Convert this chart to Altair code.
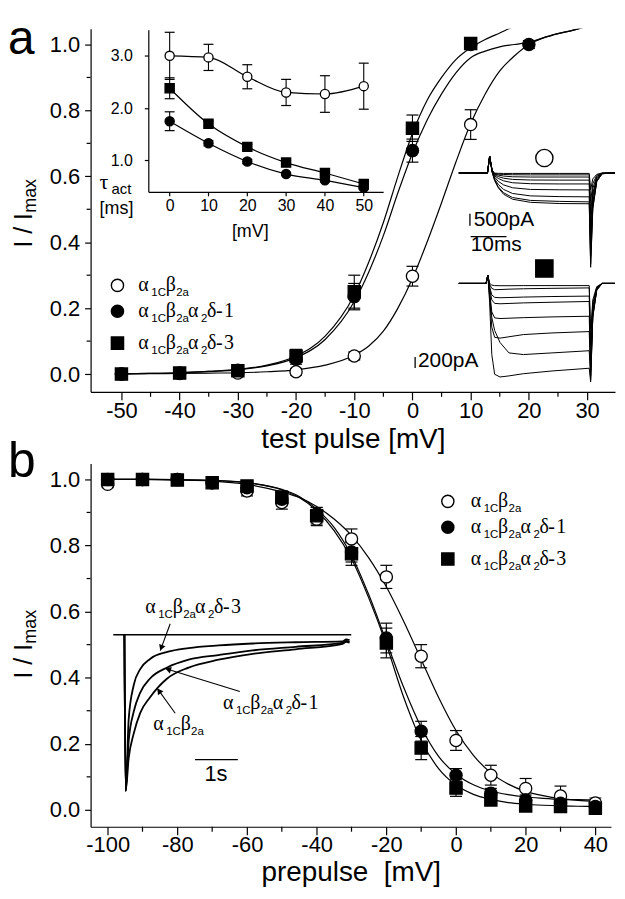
import math
import altair as alt
import pandas as pd

SANS = "Liberation Sans"
SERIF = "Liberation Serif"
K = "black"

# ================= Panel a : activation =================
act_v = [-50, -40, -30, -20, -10, 0, 10, 20]
act_b2a = [0.000, 0.002, 0.003, 0.007, 0.055, 0.297, 0.757]
act_b2a_err = [0.005, 0.005, 0.008, 0.010, 0.012, 0.030, 0.045]
act_d1 = [0.000, 0.003, 0.012, 0.045, 0.235, 0.678, 1.000, 1.000]
act_d1_err = [0.005, 0.005, 0.010, 0.015, 0.040, 0.035, 0.010, 0.012]
act_d3 = [0.000, 0.003, 0.010, 0.055, 0.250, 0.746, 1.003]
act_d3_err = [0.005, 0.005, 0.010, 0.020, 0.050, 0.040, 0.012]

fit_a_v = [-50, -45, -40, -35, -30, -25, -20, -15, -10, -7.5, -5, -2.5, 0, 2.5, 5,
           7.5, 10, 12.5, 15, 17.5, 20, 22.5, 25, 27.5, 30]
fit_a_b2a = [0.000, 0.001, 0.002, 0.003, 0.004, 0.007, 0.013, 0.027, 0.057, 0.085, 0.130,
             0.200, 0.290, 0.400, 0.520, 0.645, 0.760, 0.850, 0.920, 0.965, 1.000, 1.020,
             1.033, 1.043, 1.055]
fit_a_d1 = [0.001, 0.002, 0.004, 0.008, 0.013, 0.025, 0.050, 0.105, 0.220, 0.310, 0.420,
            0.550, 0.670, 0.770, 0.850, 0.915, 0.960, 0.980, 0.993, 1.000, 1.007, 1.020,
            1.033, 1.043, 1.055]
fit_a_d3 = [0.001, 0.002, 0.004, 0.008, 0.014, 0.027, 0.055, 0.115, 0.240, 0.340, 0.460,
            0.600, 0.730, 0.830, 0.900, 0.955, 0.990, 1.015, 1.035, 1.055, 1.070]

# inset: activation time constant
tau_v = [0, 10, 20, 30, 40, 50]
tau_b2a = [3.00, 2.97, 2.60, 2.30, 2.27, 2.42]
tau_b2a_err = [0.45, 0.25, 0.23, 0.25, 0.35, 0.44]
tau_d1 = [1.75, 1.33, 0.98, 0.74, 0.62, 0.48]
tau_d1_err = [0.18, 0.05, 0.04, 0.03, 0.03, 0.03]
tau_d3 = [2.38, 1.70, 1.26, 0.96, 0.76, 0.55]
tau_d3_err = [0.20, 0.05, 0.05, 0.04, 0.04, 0.04]

# current traces (ms, pA)
top_t = [0, 8.0, 8.6, 9.3, 10, 11, 12.5, 15, 20, 28, 36.4, 36.8, 37.4, 38.5, 40, 43.6]
top_traces = [
    [0, 0, 700, 100, -10, -15, -20, -20, -20, -20, -20, -700, -250, -60, 0, 0],
    [0, 0, 700, 100, -30, -50, -65, -75, -80, -80, -80, -1200, -450, -100, -10, 0],
    [0, 0, 700, 100, -50, -90, -130, -160, -170, -170, -170, -1700, -650, -150, -10, 0],
    [0, 0, 700, 100, -80, -150, -220, -270, -295, -300, -300, -2200, -850, -200, -20, 0],
    [0, 0, 700, 80, -120, -230, -330, -410, -450, -460, -460, -2700, -1000, -250, -20, 0],
    [0, 0, 700, 60, -180, -350, -500, -620, -690, -705, -710, -3100, -1200, -300, -30, 0],
    [0, 0, 700, 50, -250, -480, -690, -860, -960, -990, -1000, -3500, -1350, -330, -30, 0],
    [0, 0, 700, 40, -300, -580, -830, -1030, -1150, -1190, -1210, -3800, -1450, -350, -30, 0],
    [0, 0, 700, 30, -320, -620, -890, -1100, -1230, -1280, -1290, -3950, -1500, -360, -30, 0],
]
bot_t = [0, 7.6, 8.1, 8.6, 9.2, 10, 11.5, 14, 18, 26, 36.4, 36.8, 37.4, 38.5, 40, 43.6]
bot_traces = [
    [0, 0, 150, 0, -30, -40, -42, -42, -40, -40, -40, -900, -300, -60, 0, 0],
    [0, 0, 150, -20, -90, -115, -112, -105, -98, -90, -82, -1100, -360, -70, 0, 0],
    [0, 0, 150, -60, -210, -255, -262, -258, -250, -240, -232, -1300, -430, -85, 0, 0],
    [0, 0, 150, -90, -300, -365, -372, -366, -356, -344, -330, -1450, -480, -95, 0, 0],
    [0, 0, 150, -150, -520, -630, -642, -636, -626, -612, -600, -1600, -540, -105, 0, 0],
    [0, 0, 150, -250, -800, -985, -1000, -975, -935, -905, -880, -1700, -580, -115, 0, 0],
    [0, 0, 150, -200, -620, -860, -1080, -1270, -1300, -1270, -1230, -1760, -600, -120, 0, 0],
    [0, 0, 150, -350, -1300, -1660, -1710, -1690, -1650, -1600, -1550, -1800, -620, -125, 0, 0],
]

# ================= Panel b : inactivation =================
inact_v = [-100, -90, -80, -70, -60, -50, -40, -30, -20, -10, 0, 10, 20, 30, 40]
inact_b2a = [0.985, 1.000, 1.000, 0.990, 0.965, 0.930, 0.880, 0.820, 0.705, 0.465, 0.210,
             0.105, 0.065, 0.042, 0.021]
inact_b2a_err = [0.010, 0.005, 0.010, 0.010, 0.015, 0.020, 0.020, 0.030, 0.035, 0.035, 0.030,
                 0.030, 0.030, 0.030, 0.015]
inact_d1 = [1.000, 1.000, 1.000, 0.990, 0.975, 0.940, 0.895, 0.780, 0.520, 0.238, 0.105,
            0.050, 0.030, 0.020, 0.010]
inact_d1_err = [0.005, 0.005, 0.005, 0.010, 0.010, 0.020, 0.020, 0.030, 0.045, 0.030, 0.020,
                0.015, 0.015, 0.010, 0.010]
inact_d3 = [1.000, 1.000, 0.998, 0.990, 0.980, 0.945, 0.890, 0.775, 0.505, 0.187, 0.066,
            0.030, 0.012, 0.010, 0.005]
inact_d3_err = [0.005, 0.005, 0.005, 0.010, 0.010, 0.020, 0.025, 0.035, 0.045, 0.035, 0.025,
                0.015, 0.015, 0.010, 0.010]

fit_b_v = [-100, -90, -80, -70, -60, -50, -45, -40, -35, -30, -25, -20, -15, -10, -5, 0, 5,
           10, 15, 20, 25, 30, 35, 40]
fit_b_b2a = [1.000, 1.000, 0.998, 0.995, 0.985, 0.962, 0.945, 0.918, 0.880, 0.830, 0.762,
             0.675, 0.570, 0.455, 0.340, 0.240, 0.165, 0.112, 0.078, 0.056, 0.043, 0.034,
             0.029, 0.026]
fit_b_d1 = [1.000, 1.000, 0.999, 0.997, 0.990, 0.970, 0.948, 0.910, 0.855, 0.770, 0.650,
            0.510, 0.370, 0.250, 0.162, 0.108, 0.076, 0.057, 0.046, 0.039, 0.035, 0.032,
            0.031, 0.030]
fit_b_d3 = [1.000, 1.000, 0.999, 0.997, 0.990, 0.968, 0.945, 0.905, 0.845, 0.760, 0.640,
            0.500, 0.340, 0.210, 0.125, 0.075, 0.047, 0.032, 0.022, 0.017, 0.014, 0.012,
            0.011, 0.010]

# normalised tail-current traces (s, fraction of peak)
tb_t = [0, 0.03, 0.1, 0.22, 0.37, 0.6, 1.0, 1.5, 2.2, 3.0, 4.0, 5.1, 5.18, 5.26]
tb_d3 = [0, -1.0, -0.54, -0.32, -0.22, -0.155, -0.11, -0.085, -0.068, -0.056, -0.048,
         -0.042, -0.03, -0.035]
tb_d1 = [0, -1.0, -0.68, -0.49, -0.37, -0.28, -0.21, -0.16, -0.13, -0.10, -0.077,
         -0.052, -0.04, -0.045]
tb_b2a = [0, -1.0, -0.79, -0.63, -0.50, -0.40, -0.28, -0.21, -0.16, -0.122, -0.093,
          -0.058, -0.045, -0.05]
tb_zero_t = [-0.26, 5.3]

WA, HA = 527, 365
WB, HB = 523, 365


def sdf(v, y, e):
    n = len(y)
    return pd.DataFrame({"v": v[:n], "y": y,
                         "lo": [a - b for a, b in zip(y, e)],
                         "hi": [a + b for a, b in zip(y, e)]})


def fitdf(v, series):
    rows = []
    for k, ys in series.items():
        for a, b in zip(v, ys):
            rows.append({"v": a, "y": b, "k": k})
    return pd.DataFrame(rows)


def tracedf(t, traces):
    rows = []
    for k, tr in enumerate(traces):
        for a, b in zip(t, tr):
            rows.append({"t": a, "i": b, "k": k})
    return pd.DataFrame(rows)


def axis(values, size, tick, pad, fmt=None, expr=None, title=None, orient=None, offset=None,
         tsize=28, tpad=3.5):
    kw = dict(values=values, labelFont=SANS, labelFontSize=size, labelColor=K, tickSize=tick,
              tickColor=K, tickWidth=1.2, domainColor=K, domainWidth=1.2, labelPadding=pad,
              grid=False, labelFlush=False, labelOverlap=False, title=title)
    if fmt:
        kw["format"] = fmt
    if expr:
        kw["labelExpr"] = expr
    if orient:
        kw["orient"] = orient
    if offset is not None:
        kw["offset"] = offset
    if title:
        kw.update(titleFont=SANS, titleFontSize=tsize, titleFontWeight="normal",
                  titleColor=K, titlePadding=tpad)
    return alt.Axis(**kw)


def data_layers(xf, yf, series, cap, sizes, fits_df):
    """series: list of (df, shape, filled)"""
    layers = [alt.Chart(fits_df).mark_line(color=K, strokeWidth=1.2, interpolate="monotone",
                                            clip=True)
              .encode(x=xf("v"), y=yf("y"), detail="k:N")]
    for df, shape, filled in series:
        layers.append(alt.Chart(df).mark_rule(color=K, strokeWidth=1.1)
                      .encode(x=xf("v"), y=yf("lo"), y2="hi:Q"))
        for f in ("lo", "hi"):
            layers.append(alt.Chart(df).mark_tick(orient="horizontal", size=cap, thickness=1.2,
                                                  color=K, opacity=1)
                          .encode(x=xf("v"), y=yf(f)))
    for df, shape, filled in series:
        layers.append(alt.Chart(df).mark_point(shape=shape, filled=True,
                                               fill=K if filled else "white", stroke=K,
                                               strokeWidth=1.3, opacity=1, fillOpacity=1,
                                               size=sizes[shape])
                      .encode(x=xf("v"), y=yf("y")))
    return layers


def txt(rows, font, angle=0, align="left", weight="normal"):
    df = pd.DataFrame(rows, columns=["x", "y", "text", "size"])
    return alt.Chart(df).mark_text(font=font, align=align, baseline="alphabetic", angle=angle,
                                   fontWeight=weight, color=K).encode(
        x=alt.X("x:Q", scale=None, axis=None), y=alt.Y("y:Q", scale=None, axis=None),
        text="text:N", size=alt.Size("size:Q", scale=None, legend=None))


def greek(x0, y0, kind, serif_rows, sans_rows, main=20, sub=11.5):
    serif_rows += [(x0, y0, "α", main), (x0 + 27.5, y0, "β", main)]
    sans_rows += [(x0 + 13, y0 + 5, "1C", sub), (x0 + 38, y0 + 5, "2a", sub)]
    if kind != "b2a":
        serif_rows += [(x0 + 50, y0, "α", main), (x0 + 69, y0, "δ", main),
                       (x0 + 78, y0, "-", main), (x0 + 86, y0, kind[-1], main)]
        sans_rows += [(x0 + 63, y0 + 5, "2", sub)]


def marks_px(rows, shape, filled, size):
    df = pd.DataFrame(rows, columns=["x", "y"])
    return alt.Chart(df).mark_point(shape=shape, filled=True, fill=K if filled else "white",
                                    stroke=K, strokeWidth=1.4, opacity=1, size=size).encode(
        x=alt.X("x:Q", scale=None, axis=None), y=alt.Y("y:Q", scale=None, axis=None))


def arrows(rows):
    recs = []
    for (x1, y1, x2, y2) in rows:
        dx, dy = x2 - x1, y2 - y1
        ang = (math.degrees(math.atan2(dx, -dy)) + 360) % 360
        L = math.hypot(dx, dy)
        recs.append({"x": x1, "y": y1, "x2": x2, "y2": y2, "hx": x2 - 3 * dx / L,
                     "hy": y2 - 3 * dy / L, "a": ang})
    df = pd.DataFrame(recs)
    line = alt.Chart(df).mark_rule(color=K, strokeWidth=1.1).encode(
        x=alt.X("x:Q", scale=None, axis=None), y=alt.Y("y:Q", scale=None, axis=None),
        x2="x2:Q", y2="y2:Q")
    head = alt.Chart(df).mark_point(shape="triangle-up", filled=True, color=K, opacity=1,
                                    size=45).encode(
        x=alt.X("hx:Q", scale=None, axis=None), y=alt.Y("hy:Q", scale=None, axis=None),
        angle=alt.Angle("a:Q", scale=None))
    return [line, head]


NEG = "toString(datum.value)"

# ---------------- Panel a main ----------------
sxA = alt.Scale(domain=[-55.3, 34.8], nice=False, zero=False)
syA = alt.Scale(domain=[-0.054, 1.048], nice=False, zero=False)
axA_x = axis([-50, -40, -30, -20, -10, 0, 10, 20, 30], 22, 8, 1, expr=NEG,
             title="test pulse [mV]")
axA_y = axis([0, 0.2, 0.4, 0.6, 0.8, 1.0], 22, 6, 5, fmt=".1f")


def xA(f):
    return alt.X(f"{f}:Q", scale=sxA, axis=axA_x)


def yA(f):
    return alt.Y(f"{f}:Q", scale=syA, axis=axA_y)


fitsA = fitdf(fit_a_v, {"b2a": fit_a_b2a, "d1": fit_a_d1, "d3": fit_a_d3})
seriesA = [(sdf(act_v, act_b2a, act_b2a_err), "circle", False),
           (sdf(act_v, act_d1, act_d1_err), "circle", True),
           (sdf(act_v, act_d3, act_d3_err), "square", True)]
layersA = data_layers(xA, yA, seriesA, 12, {"circle": 150, "square": 150}, fitsA)
minor_xA = pd.DataFrame({"v": [-45, -35, -25, -15, -5, 5, 15, 25]})
minor_yA = pd.DataFrame({"y": [0.1, 0.3, 0.5, 0.7, 0.9]})
layersA.append(alt.Chart(minor_xA).mark_rule(color=K, strokeWidth=1.2).encode(
    x=xA("v"), y=alt.value(HA), y2=alt.value(HA + 5)))
layersA.append(alt.Chart(minor_yA).mark_rule(color=K, strokeWidth=1.2).encode(
    y=yA("y"), x=alt.value(0), x2=alt.value(-4)))
mainA = alt.layer(*layersA)

# ---------------- Panel a inset ----------------
sxI = alt.Scale(domain=[-5.5, 55], range=[58, 294], nice=False, zero=False)
syI = alt.Scale(domain=[0.4, 3.5], range=[164, 1], nice=False, zero=False)
axI_x = axis([0, 10, 20, 30, 40, 50], 16, 4, 2, orient="bottom", offset=-(HA - 164))
axI_y = axis([1, 2, 3], 16, 4, 12, fmt=".1f", orient="left", offset=-58)


def xI(f):
    return alt.X(f"{f}:Q", scale=sxI, axis=axI_x)


def yI(f):
    return alt.Y(f"{f}:Q", scale=syI, axis=axI_y)


fitsI = fitdf(tau_v, {"b2a": tau_b2a, "d1": tau_d1, "d3": tau_d3})
seriesI = [(sdf(tau_v, tau_b2a, tau_b2a_err), "circle", False),
           (sdf(tau_v, tau_d1, tau_d1_err), "circle", True),
           (sdf(tau_v, tau_d3, tau_d3_err), "square", True)]
insetA = alt.layer(*data_layers(xI, yI, seriesI, 10, {"circle": 85, "square": 85}, fitsI))

# ---------------- Panel a traces ----------------
sxT = alt.Scale(domain=[-102.8, 43.6], nice=False, zero=False)
syTop = alt.Scale(domain=[-9167, 6042], nice=False, zero=False)
syBot = alt.Scale(domain=[-1982, 4655], nice=False, zero=False)
topA = alt.layer(
    alt.Chart(tracedf(top_t, top_traces)).mark_line(color=K, strokeWidth=1.0).encode(
        x=alt.X("t:Q", scale=sxT, axis=None), y=alt.Y("i:Q", scale=syTop, axis=None),
        detail="k:N"),
    alt.Chart(pd.DataFrame({"t": [3.1, 3.3], "t2": [3.1, 13.3], "i": [-1708, -2667],
                            "i2": [-2208, -2667]})).mark_rule(color=K, strokeWidth=1.3).encode(
        x=alt.X("t:Q", scale=sxT, axis=None), x2="t2:Q",
        y=alt.Y("i:Q", scale=syTop, axis=None), y2="i2:Q"),
)
botA = alt.layer(
    alt.Chart(tracedf(bot_t, bot_traces)).mark_line(color=K, strokeWidth=1.0).encode(
        x=alt.X("t:Q", scale=sxT, axis=None), y=alt.Y("i:Q", scale=syBot, axis=None),
        detail="k:N"),
    alt.Chart(pd.DataFrame({"t": [-12.2], "t2": [-12.2], "i": [-1345], "i2": [-1545]}))
    .mark_rule(color=K, strokeWidth=1.3).encode(
        x=alt.X("t:Q", scale=sxT, axis=None), x2="t2:Q",
        y=alt.Y("i:Q", scale=syBot, axis=None), y2="i2:Q"),
)

# ---------------- Panel a texts ----------------
serA, sanA = [], []
greek(48, 264, "b2a", serA, sanA)
greek(48, 290, "d1", serA, sanA)
greek(48, 322, "d3", serA, sanA)
serA.append((9, 161, "τ", 22))
sanA += [(21, 166, "act", 15), (9, 186, "[ms]", 18), (142, 209, "[mV]", 18),
         (385, 198, "500pA", 21), (382, 223, "10ms", 21), (329, 340, "200pA", 21)]
textsA = [
    txt(serA, SERIF), txt(sanA, SANS),
    txt([(-83, 25, "a", 48)], SANS),
    txt([(-59, 220, "I / I", 25)], SANS, angle=270),
    txt([(-55, 185, "max", 18)], SANS, angle=270),
    marks_px([(27, 258)], "circle", False, 150),
    marks_px([(27, 284)], "circle", True, 150),
    marks_px([(27, 316)], "square", True, 150),
    marks_px([(456, 130)], "circle", False, 300),
    marks_px([(456, 241)], "square", True, 300),
]

panelA = alt.layer(mainA, insetA, topA, botA, *textsA).resolve_scale(
    x="independent", y="independent").properties(width=WA, height=HA)

# ---------------- Panel b main ----------------
sxB = alt.Scale(domain=[-104.9, 44.5], nice=False, zero=False)
syB = alt.Scale(domain=[-0.051, 1.048], nice=False, zero=False)
axB_x = axis([-100, -80, -60, -40, -20, 0, 20, 40], 22, 8, 0, expr=NEG,
             title="prepulse\u00a0 [mV]")
axB_y = axis([0, 0.2, 0.4, 0.6, 0.8, 1.0], 22, 6, 5, fmt=".1f")


def xB(f):
    return alt.X(f"{f}:Q", scale=sxB, axis=axB_x)


def yB(f):
    return alt.Y(f"{f}:Q", scale=syB, axis=axB_y)


fitsB = fitdf(fit_b_v, {"b2a": fit_b_b2a, "d1": fit_b_d1, "d3": fit_b_d3})
seriesB = [(sdf(inact_v, inact_b2a, inact_b2a_err), "circle", False),
           (sdf(inact_v, inact_d1, inact_d1_err), "circle", True),
           (sdf(inact_v, inact_d3, inact_d3_err), "square", True)]
layersB = data_layers(xB, yB, seriesB, 12, {"circle": 150, "square": 150}, fitsB)
minor_xB = pd.DataFrame({"v": [-90, -70, -50, -30, -10, 10, 30]})
minor_yB = pd.DataFrame({"y": [0.1, 0.3, 0.5, 0.7, 0.9]})
layersB.append(alt.Chart(minor_xB).mark_rule(color=K, strokeWidth=1.2).encode(
    x=xB("v"), y=alt.value(HB), y2=alt.value(HB + 5)))
layersB.append(alt.Chart(minor_yB).mark_rule(color=K, strokeWidth=1.2).encode(
    y=yB("y"), x=alt.value(0), x2=alt.value(-4)))
mainB = alt.layer(*layersB)

sxTB = alt.Scale(domain=[-0.79, 11.37], nice=False, zero=False)
syTB = alt.Scale(domain=[-1.229, 1.096], nice=False, zero=False)
tr_rows = []
for name, ys in (("d3", tb_d3), ("d1", tb_d1), ("b2a", tb_b2a)):
    for a, b in zip(tb_t, ys):
        tr_rows.append({"t": a, "i": b, "k": name})
trB = alt.layer(
    alt.Chart(pd.DataFrame(tr_rows)).mark_line(color=K, strokeWidth=1.8, interpolate="monotone")
    .encode(x=alt.X("t:Q", scale=sxTB, axis=None), y=alt.Y("i:Q", scale=syTB, axis=None),
            detail="k:N"),
    alt.Chart(pd.DataFrame({"t": [tb_zero_t[0], 1.65], "t2": [tb_zero_t[1], 2.65],
                            "i": [0.0, -0.80]})).mark_rule(color=K, strokeWidth=1.3).encode(
        x=alt.X("t:Q", scale=sxTB, axis=None), x2="t2:Q",
        y=alt.Y("i:Q", scale=syTB, axis=None)),
)

serB, sanB = [], []
greek(382, 44, "b2a", serB, sanB)
greek(382, 70, "d1", serB, sanB)
greek(382, 102, "d3", serB, sanB)
greek(55, 150, "d3", serB, sanB)
greek(133, 247, "d1", serB, sanB)
greek(63, 268, "b2a", serB, sanB)
textsB = [
    txt(serB, SERIF), txt(sanB, SANS),
    txt([(126, 319, "1s", 22)], SANS, align="center"),
    txt([(-83, 14, "b", 50)], SANS),
    txt([(-59, 216, "I / I", 25)], SANS, angle=270),
    txt([(-55, 181, "max", 18)], SANS, angle=270),
    marks_px([(359, 38)], "circle", False, 150),
    marks_px([(359, 64)], "circle", True, 150),
    marks_px([(359, 96)], "square", True, 150),
    *arrows([(80, 161, 70, 188), (150, 229, 75, 206), (85, 251, 67, 226)]),
]

panelB = alt.layer(mainB, trB, *textsB).resolve_scale(
    x="independent", y="independent").properties(width=WB, height=HB)

chart = alt.vconcat(panelA, panelB, spacing=72, bounds="flush").properties(
    padding={"left": 0, "top": 5.6, "right": 0, "bottom": 0}
).configure_view(stroke=None)
chart.save("out.html", embed_options={"renderer": "svg", "actions": False})
